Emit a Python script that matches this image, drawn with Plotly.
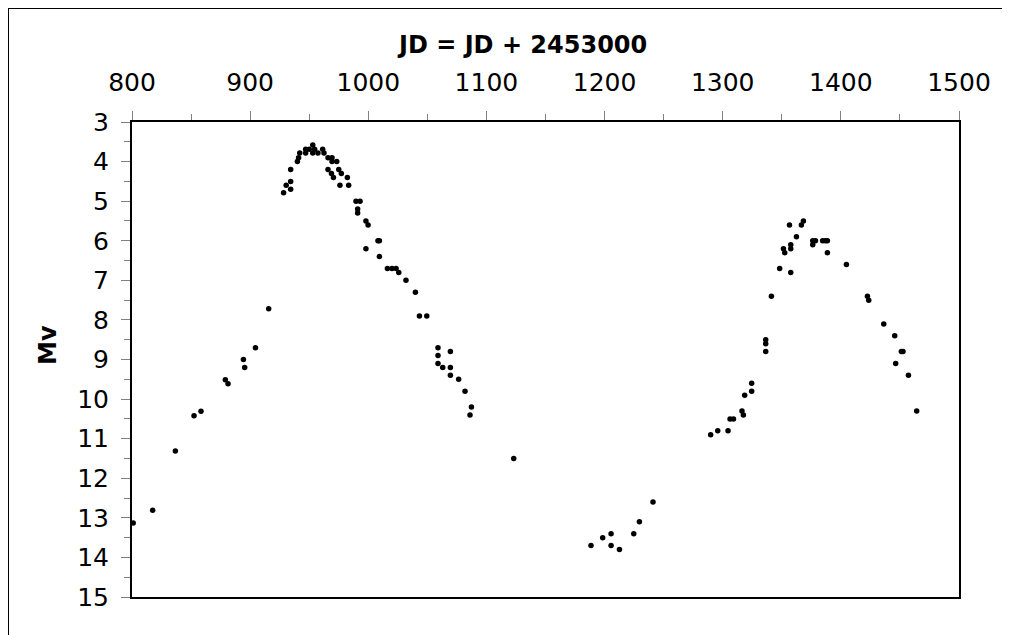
import plotly.graph_objects as go

# Julian date offsets (JD - 2453000)
jd = [
    801, 817.5, 836.7, 852.5, 858.4, 879, 881.3, 894.3, 895.4, 904.5,
    915.7, 928.3, 930.5, 934.3, 934.3, 934.3, 940, 941, 942, 947,
    947, 950, 953, 953, 954.6, 957.4, 961.4, 962.5, 965.9, 969.3,
    969.3, 973.3, 965.9, 968.8, 970.5, 975, 977.2, 982.3, 976, 983.4,
    989.6, 993, 991, 991, 998, 999.8, 998, 1008.2, 1009.4, 1009.4,
    1016.2, 1020.1, 1023.5, 1025.8, 1031.9, 1039.9, 1043.3, 1049.5, 1059, 1059,
    1059, 1063, 1069.5, 1069.5, 1069.5, 1076.5, 1081.9, 1087.3, 1086.1, 1123.1,
    1188.5, 1198.4, 1205.5, 1205.5, 1212.6, 1224.7, 1229.5, 1241, 1289.8, 1295.8,
    1304.5, 1306.2, 1309.1, 1316.3, 1317.5, 1318.6, 1324.5, 1324.5, 1336.4, 1336.4,
    1336.4, 1341.2, 1348.2, 1351.4, 1352.5, 1356.5, 1357.6, 1357.6, 1357.6, 1362.4,
    1366.6, 1368.3, 1376.2, 1378.5, 1376.2, 1384.6, 1386.9, 1388.6, 1388.6, 1404.7,
    1422.5, 1423.6, 1436.3, 1445.6, 1446.4, 1451.2, 1452.6, 1457.2, 1464.2,
]
# Visual magnitude
mv = [
    13.13, 12.81, 11.31, 10.42, 10.31, 9.51, 9.61, 9.0, 9.2, 8.7,
    7.72, 4.79, 4.6, 4.7, 4.5, 4.2, 4.0, 3.9, 3.78, 3.69,
    3.78, 3.69, 3.58, 3.78, 3.69, 3.78, 3.69, 3.78, 3.9, 3.9,
    4.0, 4.0, 4.2, 4.3, 4.4, 4.2, 4.3, 4.4, 4.6, 4.6,
    5.0, 5.0, 5.2, 5.3, 5.5, 5.6, 6.2, 6.0, 6.0, 6.4,
    6.7, 6.7, 6.7, 6.8, 7.0, 7.3, 7.9, 7.9, 8.7, 8.9,
    9.1, 9.2, 8.8, 9.2, 9.4, 9.5, 9.8, 10.2, 10.4, 11.5,
    13.7, 13.5, 13.4, 13.7, 13.8, 13.4, 13.1, 12.6, 10.9, 10.8,
    10.8, 10.5, 10.5, 10.3, 10.4, 9.9, 9.8, 9.6, 8.5, 8.6,
    8.8, 7.4, 6.7, 6.2, 6.3, 5.6, 6.1, 6.2, 6.8, 5.9,
    5.6, 5.5, 6.0, 6.0, 6.1, 6.0, 6.0, 6.0, 6.3, 6.6,
    7.4, 7.5, 8.1, 8.4, 9.1, 8.8, 8.8, 9.4, 10.3,
]

x_range = [800, 1500]
y_range = [15, 3]
x_title = "JD = JD + 2453000"
y_title = "Mv"

W, H = 1010, 635
L, R, T, B = 124, 59, 114, 46
pw, ph = W - L - R, H - T - B

def px(xp):
    return (xp - L) / pw

def py(yp):
    return (H - B - yp) / ph

font_family = "DejaVu Sans, Verdana, sans-serif"

fig = go.Figure()
fig.add_trace(go.Scatter(
    x=jd, y=mv, mode="markers",
    marker=dict(color="black", size=5.5, line=dict(width=0)),
    showlegend=False, hoverinfo="x+y",
))

fig.update_layout(
    width=W, height=H,
    margin=dict(l=L, r=R, t=T, b=B, pad=0),
    paper_bgcolor="white", plot_bgcolor="white",
    font=dict(family=font_family, size=25, color="black"),
    xaxis=dict(
        side="top", range=x_range, dtick=100, tick0=800,
        showgrid=False, zeroline=False,
        showline=True, linecolor="black", linewidth=2, mirror=True,
        ticks="outside", ticklen=9, tickwidth=1, tickcolor="#808080",
        minor=dict(dtick=50, ticks="outside", ticklen=6, tickwidth=1, tickcolor="#808080", showgrid=False),
        tickfont=dict(size=25), ticklabelstandoff=10,
    ),
    yaxis=dict(
        range=y_range, dtick=1, tick0=3,
        showgrid=False, zeroline=False,
        showline=True, linecolor="black", linewidth=2, mirror=True,
        ticks="outside", ticklen=9, tickwidth=1, tickcolor="#808080",
        minor=dict(dtick=0.5, ticks="outside", ticklen=6, tickwidth=1, tickcolor="#808080", showgrid=False),
        tickfont=dict(size=25), ticklabelstandoff=7,
    ),
    annotations=[
        dict(text=f"<b>{x_title}</b>", xref="paper", yref="paper",
             x=px(514), y=py(37), showarrow=False,
             font=dict(size=24, family=font_family), xanchor="center", yanchor="middle"),
        dict(text=f"<b>{y_title}</b>", xref="paper", yref="paper",
             x=px(40), y=py(337), showarrow=False, textangle=-90,
             font=dict(size=24, family=font_family), xanchor="center", yanchor="middle"),
    ],
    shapes=[
        dict(type="rect", xref="paper", yref="paper",
             x0=px(0), x1=px(995), y0=py(640), y1=py(0),
             line=dict(color="black", width=2), fillcolor="rgba(0,0,0,0)", layer="above"),
    ],
)

fig.write_html("out.html")
